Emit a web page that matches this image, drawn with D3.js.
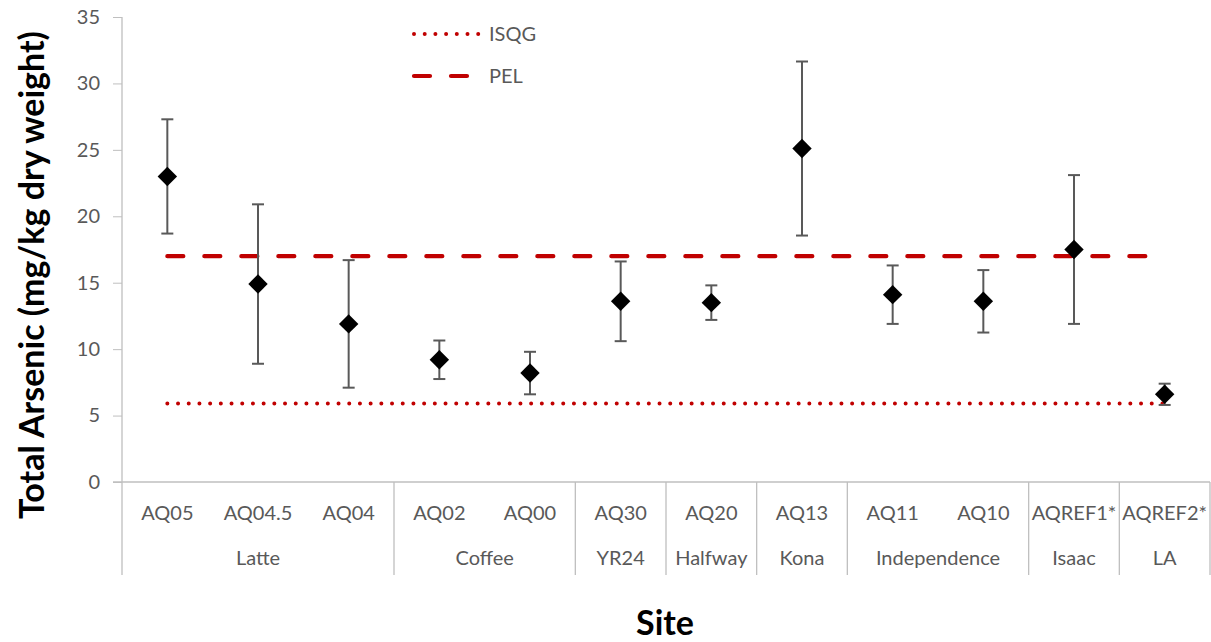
<!DOCTYPE html>
<html>
<head>
<meta charset="utf-8">
<script src="https://cdn.jsdelivr.net/npm/d3@7"></script>
<style>
  html, body { margin: 0; padding: 0; background: #fff; }
  svg text { font-family: Lato, "Open Sans", sans-serif; }
</style>
</head>
<body>
<svg id="chart" width="1211" height="642"></svg>
<script>
// Sites and their waterbody groups
const sites = ["AQ05", "AQ04.5", "AQ04", "AQ02", "AQ00", "AQ30", "AQ20", "AQ13", "AQ11", "AQ10", "AQREF1*", "AQREF2*"];
const groupNames = ["Latte", "Coffee", "YR24", "Halfway", "Kona", "Independence", "Isaac", "LA"];
const groupSizes = [3, 2, 1, 1, 1, 2, 1, 1];

// Mean total arsenic and error (± mg/kg dry weight)
const means = [23.0, 14.9, 11.9, 9.2, 8.2, 13.6, 13.5, 25.1, 14.1, 13.6, 17.5, 6.6];
const errors = [4.3, 6.0, 4.8, 1.45, 1.6, 3.0, 1.3, 6.55, 2.2, 2.35, 5.6, 0.8];

// Sediment quality guidelines
const isqg = 5.9;
const pel = 17.0;

const yTicks = [0, 5, 10, 15, 20, 25, 30, 35];

const svg = d3.select("#chart");
const plotLeft = 122, plotRight = 1210, plotTop = 17, plotBottom = 482, tableBottom = 575;

const x = d3.scaleBand().domain(sites).range([plotLeft, plotRight]).padding(0);
const y = d3.scaleLinear().domain([0, 35]).range([plotBottom, plotTop]);

const grey = "#595959";
const axisGrey = "#bfbfbf";
const red = "#c00000";

// Y axis
const yAxis = d3.axisLeft(y).tickValues(yTicks).tickSize(9).tickSizeOuter(0).tickPadding(13);
const gy = svg.append("g").attr("transform", `translate(${plotLeft},0)`).call(yAxis);
gy.select(".domain").remove();
gy.selectAll(".tick line").attr("stroke", axisGrey).attr("stroke-width", 1);
gy.selectAll(".tick text").attr("fill", grey).style("font-size", "20px");

// left boundary of plot + category table
svg.append("line").attr("x1", plotLeft).attr("x2", plotLeft).attr("y1", plotTop).attr("y2", tableBottom)
  .attr("stroke", axisGrey).attr("stroke-width", 1.3);
// category axis line
svg.append("line").attr("x1", plotLeft - 9).attr("x2", plotRight).attr("y1", plotBottom).attr("y2", plotBottom)
  .attr("stroke", axisGrey).attr("stroke-width", 1.3);

// Site labels
svg.append("g").selectAll("text").data(sites).join("text")
  .attr("x", d => x(d) + x.bandwidth() / 2)
  .attr("y", 520)
  .attr("text-anchor", "middle")
  .attr("fill", grey)
  .style("font-size", "20px")
  .text(d => d);

// Group labels and separators
let start = 0;
const groupData = groupNames.map((name, i) => {
  const s = start;
  start += groupSizes[i];
  return { name, first: sites[s], last: sites[start - 1] };
});
svg.append("g").selectAll("line").data(groupData).join("line")
  .attr("x1", d => x(d.last) + x.bandwidth())
  .attr("x2", d => x(d.last) + x.bandwidth())
  .attr("y1", plotBottom).attr("y2", tableBottom)
  .attr("stroke", axisGrey).attr("stroke-width", 1.3);
svg.append("g").selectAll("text").data(groupData).join("text")
  .attr("x", d => (x(d.first) + x(d.last) + x.bandwidth()) / 2)
  .attr("y", 565)
  .attr("text-anchor", "middle")
  .attr("fill", grey)
  .style("font-size", "20px")
  .text(d => d.name);

// Guideline lines spanning the first to last site
const cx = d => x(d) + x.bandwidth() / 2;
const x0 = cx(sites[0]), x1 = cx(sites[sites.length - 1]);
svg.append("line").attr("x1", x0).attr("x2", x1).attr("y1", y(pel)).attr("y2", y(pel))
  .attr("stroke", red).attr("stroke-width", 4.2).attr("stroke-linecap", "round")
  .attr("stroke-dasharray", "16,21");
svg.append("line").attr("x1", x0).attr("x2", x1).attr("y1", y(isqg)).attr("y2", y(isqg))
  .attr("stroke", red).attr("stroke-width", 4).attr("stroke-linecap", "round")
  .attr("stroke-dasharray", "0,10.7");

// Error bars
const eb = svg.append("g").attr("stroke", grey).attr("stroke-width", 2);
sites.forEach((s, i) => {
  const c = cx(s), hi = y(means[i] + errors[i]), lo = y(means[i] - errors[i]);
  eb.append("line").attr("x1", c).attr("x2", c).attr("y1", hi).attr("y2", lo);
  eb.append("line").attr("x1", c - 6).attr("x2", c + 6).attr("y1", hi).attr("y2", hi);
  eb.append("line").attr("x1", c - 6).attr("x2", c + 6).attr("y1", lo).attr("y2", lo);
});

// Diamond markers
const diamond = d3.symbol().type(d3.symbolDiamond2).size(240);
svg.append("g").selectAll("path").data(sites).join("path")
  .attr("d", diamond)
  .attr("transform", (d, i) => `translate(${cx(d)},${y(means[i])})`)
  .attr("fill", "#000");

// Legend
const lg = svg.append("g");
lg.append("line").attr("x1", 414).attr("x2", 481).attr("y1", 34).attr("y2", 34)
  .attr("stroke", red).attr("stroke-width", 4).attr("stroke-linecap", "round")
  .attr("stroke-dasharray", "0,10.7");
lg.append("text").attr("x", 489).attr("y", 41).attr("fill", grey).style("font-size", "20px").text("ISQG");
lg.append("line").attr("x1", 414).attr("x2", 470).attr("y1", 76).attr("y2", 76)
  .attr("stroke", red).attr("stroke-width", 4.2).attr("stroke-linecap", "round")
  .attr("stroke-dasharray", "16,21");
lg.append("text").attr("x", 489).attr("y", 83).attr("fill", grey).style("font-size", "20px").text("PEL");

// Axis titles
svg.append("text")
  .attr("transform", "translate(44,275) rotate(-90)")
  .attr("text-anchor", "middle")
  .style("font-size", "34px").style("font-weight", "bold")
  .attr("fill", "#000")
  .text("Total Arsenic (mg/kg dry weight)");
svg.append("text")
  .attr("x", 665).attr("y", 635)
  .attr("text-anchor", "middle")
  .style("font-size", "34px").style("font-weight", "bold")
  .attr("fill", "#000")
  .text("Site");
</script>
</body>
</html>
